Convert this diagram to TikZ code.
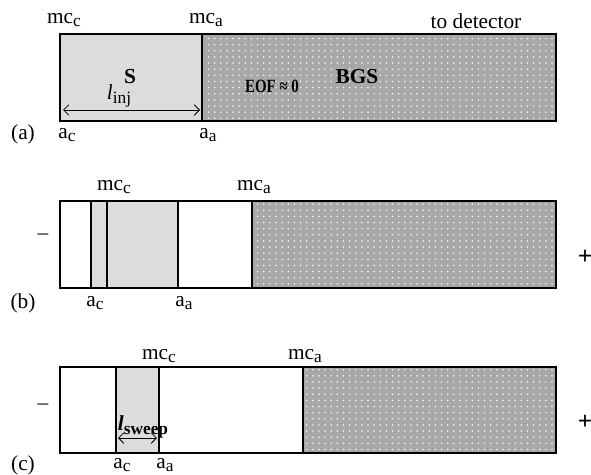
\documentclass[tikz,border=0pt]{standalone}
\usepackage{fontspec}
\setmainfont{Liberation Serif}
\usetikzlibrary{patterns.meta,arrows.meta}
\definecolor{lightfill}{RGB}{220,220,220}
\definecolor{bgsfill}{RGB}{168,168,168}
\newcommand{\lowsub}[1]{\raisebox{-0.35ex}{\fontsize{13}{13}\selectfont #1}}
\tikzset{
  txt/.style={inner sep=0pt,font=\fontsize{16}{19}\selectfont},
  bold/.style={txt,font=\fontsize{16}{19}\selectfont\bfseries},
  wall/.style={line width=1.6pt},
  bgs/.style={fill=bgsfill,postaction={pattern={Dots[distance=4.6pt,radius=0.65pt]},pattern color=white!92!bgsfill}},
  sample/.style={fill=lightfill},
  dim/.style={line width=0.6pt,{Straight Barb[length=4pt,width=8pt]}-{Straight Barb[length=4pt,width=8pt]}}
}
\begin{document}
\begin{tikzpicture}[x=0.75pt,y=-0.75pt]
\useasboundingbox (0,0) rectangle (591,474);
% ---------- panel (a)
\fill[sample] (60,34) rectangle (202,121);
\fill[bgs] (202,34) rectangle (556,121);
\draw[wall] (60,34) rectangle (556,121);
\draw[wall] (202,34) -- (202,121);
\coordinate (ia) at (63,110);
\coordinate (ib) at (200,110);
\draw[dim] (ia) -- (ib);
\node[txt] (amcc) at (64,20) {mc\lowsub{c}};
\node[txt] (amca) at (206,20) {mc\lowsub{a}};
\node[txt] (det) at (476,21) {to detector};
\node[bold] (S) at (130,77) {S};
\node[txt] (linj) at (119,96) {\textit{l}\lowsub{inj}};
\node[bold,font=\fontsize{14}{17}\selectfont\bfseries] (eof) at (272,86) {\scalebox{0.8}[1]{EOF ≈ 0}};
\node[bold] (bgs) at (357,77) {BGS};
\node[txt] (la) at (23,134) {(a)};
\node[txt] (aac) at (67,135) {a\lowsub{c}};
\node[txt] (aaa) at (208,135) {a\lowsub{a}};
% ---------- panel (b)
\fill[sample] (91,201) rectangle (178,288);
\fill[bgs] (252,201) rectangle (556,288);
\draw[wall] (60,201) rectangle (556,288);
\draw[wall] (91,201) -- (91,288);
\draw[wall] (107,201) -- (107,288);
\draw[wall] (178,201) -- (178,288);
\draw[wall] (252,201) -- (252,288);
\node[txt] (bmcc) at (114,187) {mc\lowsub{c}};
\node[txt] (bmca) at (254,187) {mc\lowsub{a}};
\node[txt] (bminus) at (43,237) {–};
\node[txt,font=\fontsize{19}{19}\selectfont\bfseries] (bplus) at (585,257) {+};
\node[txt] (lb) at (23,303) {(b)};
\node[txt] (bac) at (95,303) {a\lowsub{c}};
\node[txt] (baa) at (184,303) {a\lowsub{a}};
% ---------- panel (c)
\fill[sample] (116,367) rectangle (159,453);
\fill[bgs] (303,367) rectangle (556,453);
\draw[wall] (60,367) rectangle (556,453);
\draw[wall] (116,367) -- (116,453);
\draw[wall] (159,367) -- (159,453);
\draw[wall] (303,367) -- (303,453);
\coordinate (sa) at (118,438);
\coordinate (sb) at (157,438);
\draw[dim] (sa) -- (sb);
\node[txt] (cmcc) at (159,356) {mc\lowsub{c}};
\node[txt] (cmca) at (305,356) {mc\lowsub{a}};
\node[txt] (cminus) at (43,407) {–};
\node[txt,font=\fontsize{19}{19}\selectfont\bfseries] (cplus) at (585,422) {+};
\node[txt] (lsw) at (143,427) {\textbf{\textit{l}}\lowsub{\bfseries sweep}};
\node[txt] (lc) at (23,465) {(c)};
\node[txt] (cac) at (122,465) {a\lowsub{c}};
\node[txt] (caa) at (165,465) {a\lowsub{a}};
\end{tikzpicture}
\end{document}
